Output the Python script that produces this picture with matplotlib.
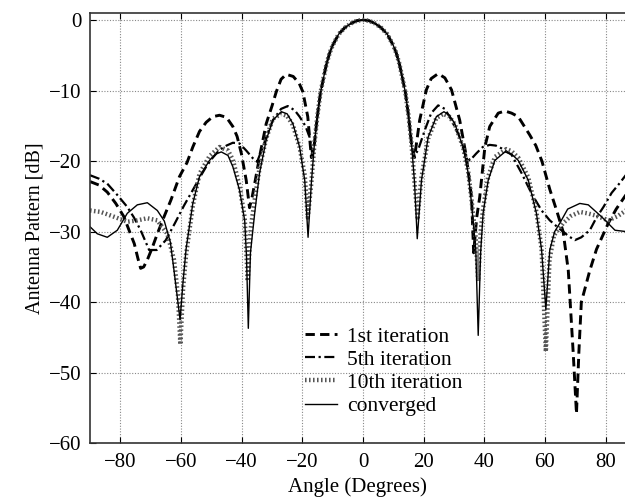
import matplotlib
matplotlib.use("Agg")
import matplotlib.pyplot as plt

plt.rcParams['font.family'] = ['Liberation Serif', 'DejaVu Serif']
plt.rcParams['mathtext.fontset'] = 'stix'

# ---------------- data ----------------
ang_conv = [-90, -87.6, -84.3, -81, -77.7, -74.4, -71.1, -67.8, -65.5, -63.5,
            -62.3, -61.3, -60.3, -59.3, -58.3, -56.1, -53.9, -50.6, -48.5, -46.7,
            -44.5, -42.9, -40.7, -39.0, -38.4, -37.8, -37.1, -35.7, -34.1, -31.9,
            -29.7, -26.9, -25, -23.1, -20.9, -19.2, -18.1, -17, -16, -15,
            -14, -13, -12, -11, -10, -8, -6, -4, -2, 0,
            2, 4, 6, 8, 10, 11, 12, 13, 14, 15,
            16, 17, 17.9, 19.3, 21.5, 24.2, 26.7, 28.5, 30.3, 33.0,
            34.7, 35.8, 37.2, 38.0, 38.8, 39.6, 41.3, 43.5, 46.8, 49,
            51.2, 54.5, 57.2, 58.9, 60.3, 61.6, 63.2, 64.9, 67.5, 71.5,
            74.3, 78.7, 83.1, 87]
db_conv = [-29.3, -30.3, -30.8, -29.8, -27.4, -26.2, -25.9, -27.0, -28.5, -31.5,
           -35.5, -39.0, -42.5, -37.0, -32.4, -26.0, -22.2, -19.9, -19.0, -18.7,
           -19.2, -20.8, -24.1, -28.4, -33.5, -43.7, -33.0, -27.4, -21.7, -17.0,
           -14.2, -13.0, -13.3, -14.7, -18.0, -22.7, -30.8, -23.0, -17.5, -13.5,
           -10.3, -8.2, -6.2, -4.7, -3.6, -2.0, -1.1, -0.5, -0.1, 0.0,
           -0.1, -0.5, -1.1, -2.0, -3.6, -4.7, -6.2, -8.2, -10.3, -13.5,
           -17.5, -23.0, -31.0, -22.7, -16.6, -13.7, -13.0, -13.5, -14.7, -18.0,
           -21.7, -26.0, -32.6, -44.7, -33.0, -27.4, -22.7, -19.9, -18.7, -19.0,
           -19.9, -22.7, -27.4, -32.6, -41.0, -32.6, -30.0, -28.8, -26.8, -26.0,
           -26.2, -27.9, -29.8, -30.0]

ang_it10 = [-90, -86.5, -82, -77.7, -74.4, -71.1, -67.8, -64.5, -62.3, -61.0,
            -60.2, -59.3, -58.3, -56.1, -53.9, -50.6, -47.3, -44.5, -42.9, -40.7,
            -39.0, -38.0, -37.0, -35.7, -34.1, -31.9, -29.7, -26.9, -25, -23.1,
            -20.9, -19.2, -18.2, -17, -16, -15, -14, -13, -12, -11,
            -10, -8, -6, -4, -2, 0, 2, 4, 6, 8,
            10, 11, 12, 13, 14, 15, 16, 17, 18, 19.3,
            21.5, 24.2, 26.5, 28.5, 30.3, 33.0, 34.7, 35.8, 37.2, 38.0,
            38.8, 39.6, 41.3, 43.5, 47.3, 49, 51.2, 54.5, 57.2, 58.9,
            60.3, 61.5, 63, 66, 68.5, 71.5, 74, 76.6, 80.9, 84,
            87]
db_it10 = [-27.0, -27.2, -27.9, -28.6, -28.4, -28.1, -28.4, -30.3, -34.0, -39.0,
           -46.0, -38.0, -33.2, -26.3, -21.8, -19.3, -18.0, -18.5, -19.8, -23.5,
           -28.0, -37.0, -29.5, -25.5, -21.0, -16.8, -14.0, -13.3, -13.6, -14.9,
           -18.0, -22.0, -28.0, -23.0, -17.5, -13.5, -10.3, -8.2, -6.2, -4.7,
           -3.6, -2.0, -1.1, -0.5, -0.1, 0.0, -0.1, -0.5, -1.1, -2.0,
           -3.6, -4.7, -6.2, -8.2, -10.3, -13.5, -17.5, -23.0, -28.0, -22.3,
           -16.8, -13.9, -13.3, -13.7, -14.8, -18.0, -21.5, -25.5, -31.0, -37.0,
           -30.0, -26.8, -22.2, -19.4, -18.3, -18.6, -19.5, -22.3, -27.2, -32.5,
           -47.0, -34.0, -30.5, -28.8, -27.8, -27.2, -27.4, -27.7, -28.4, -27.8,
           -26.9]

ang_it1 = [-90, -87, -84.3, -81.5, -78.8, -76.5, -75.4, -74.2, -73.3, -72.3,
           -71.1, -69.5, -67.8, -65.5, -63.3, -60.5, -58.0, -56.1, -53.9, -51.7,
           -49.5, -47.3, -45.0, -42.9, -41.5, -40.1, -38.5, -37.4, -36.5, -35.7,
           -34.1, -31.9, -30.0, -28.6, -27.0, -25.3, -23.0, -21.0, -19.8, -18.2,
           -17.0, -16, -15, -14, -13, -12, -11, -10, -8, -6,
           -4, -2, 0, 2, 4, 6, 8, 10, 11, 12,
           13, 14, 15, 16, 17.0, 18.7, 20.9, 22.5, 24.8, 27.0,
           29.2, 31.9, 34.1, 35.8, 36.5, 37.5, 38.5, 40.2, 41.8, 44.6,
           46.8, 49.0, 51.2, 55.0, 57.0, 59.0, 61.6, 64.0, 66.0, 67.7,
           69.3, 70.4, 71.2, 72.0, 74.8, 77.0, 80.9, 83.5, 87]
db_it1 = [-22.9, -23.4, -24.4, -26.0, -27.9, -30.5, -31.7, -33.8, -35.2, -35.0,
          -34.0, -32.3, -30.3, -27.8, -25.5, -22.2, -20.2, -18.0, -15.8, -14.5,
          -13.7, -13.5, -13.8, -15.1, -16.5, -18.9, -22.7, -26.6, -25.0, -23.2,
          -19.4, -14.7, -12.2, -10.2, -8.4, -7.7, -8.0, -9.0, -10.2, -13.7,
          -19.5, -17.5, -13.5, -10.3, -8.2, -6.2, -4.7, -3.6, -2.0, -1.1,
          -0.5, -0.1, 0.0, -0.1, -0.5, -1.1, -2.0, -3.6, -4.7, -6.2,
          -8.2, -10.3, -13.5, -17.5, -19.5, -14.2, -9.9, -8.3, -7.6, -8.2,
          -9.9, -14.2, -19.4, -25.1, -33.0, -28.0, -25.1, -18.0, -15.1, -13.2,
          -12.9, -13.2, -13.7, -16.3, -17.8, -20.0, -24.0, -27.2, -30.0, -35.5,
          -47.0, -55.8, -47.0, -40.0, -35.5, -32.5, -28.8, -26.8, -24.6]

ang_it5 = [-90, -87, -84.3, -81, -77.7, -75.5, -73.3, -71.8, -70.5, -68.0,
           -65.0, -62.0, -59.0, -56.1, -53.9, -51.7, -49.5, -47.3, -45.0, -42.9,
           -40.7, -38.5, -36.3, -34.9, -33.0, -31.4, -29.7, -27.0, -24.8, -22.5,
           -20.9, -19.0, -17.6, -16.6, -16, -15, -14, -13, -12, -11,
           -10, -8, -6, -4, -2, 0, 2, 4, 6, 8,
           10, 11, 12, 13, 14, 15, 16, 16.8, 18.2, 20.4,
           22.5, 24.8, 27.0, 29.2, 31.9, 33.6, 35.3, 37.4, 39.5, 41.8,
           43.8, 45.7, 49.0, 52.3, 55.6, 58.9, 61.6, 64.0, 66.0, 68.0,
           69.9, 72.0, 74.8, 77.0, 79.3, 82.0, 84.5, 87]
db_it5 = [-22.0, -22.5, -23.2, -24.8, -26.5, -28.0, -29.8, -31.3, -32.6, -32.6,
          -31.2, -28.8, -26.3, -24.1, -22.4, -20.8, -19.5, -18.4, -17.8, -17.4,
          -17.5, -18.5, -19.6, -20.1, -18.0, -16.0, -14.2, -12.6, -12.2, -12.8,
          -13.7, -15.0, -16.6, -19.2, -17.5, -13.5, -10.3, -8.2, -6.2, -4.7,
          -3.6, -2.0, -1.1, -0.5, -0.1, 0.0, -0.1, -0.5, -1.1, -2.0,
          -3.6, -4.7, -6.2, -8.2, -10.3, -13.5, -17.5, -19.4, -18.4, -15.6,
          -13.2, -12.1, -12.6, -14.2, -16.6, -18.9, -19.9, -18.9, -18.0, -17.7,
          -17.8, -18.2, -19.1, -21.7, -24.6, -27.0, -28.4, -29.3, -30.0, -30.7,
          -31.2, -30.8, -29.8, -28.0, -26.5, -24.5, -23.2, -21.8]

labels = ['1st iteration', '5th iteration', '10th iteration', 'converged']
x_ticks = [-80, -60, -40, -20, 0, 20, 40, 60, 80]
y_ticks = [-60, -50, -40, -30, -20, -10, 0]

for a, b in [(ang_conv, db_conv), (ang_it10, db_it10), (ang_it1, db_it1), (ang_it5, db_it5)]:
    assert len(a) == len(b), (len(a), len(b))

# ---------------- figure ----------------
fig = plt.figure(figsize=(6.25, 5), dpi=100)
ax = fig.add_axes([90 / 625, 56.7 / 500, 535 / 625, 430 / 500])

ax.plot(ang_it1, db_it1, color='black', lw=2.1, linestyle=(0, (3.2, 1.8)), label=labels[0])
ax.plot(ang_it5, db_it5, color='black', lw=1.6, linestyle=(0, (4.5, 1.6, 1.0, 1.6)), label=labels[1])
ax.plot(ang_it10, db_it10, color='#555555', lw=3.2, linestyle=(0, (0.35, 0.55)), label=labels[2])
ax.plot(ang_conv, db_conv, color='black', lw=1.0, linestyle='-', label=labels[3])

ax.set_xlim(-90, 86.4)
ax.set_ylim(-60, 0.95)
ax.set_xticks(x_ticks)
ax.set_yticks(y_ticks)
ax.grid(True, color='#888888', linestyle=(0, (1, 1.5)), linewidth=0.8)
ax.tick_params(direction='in', length=4, labelsize=15, colors='black', top=True, pad=6)
ax.tick_params(axis='x', pad=7)
for s in ['left', 'bottom', 'top']:
    ax.spines[s].set_color('#333333')
    ax.spines[s].set_linewidth(1.2)
ax.spines['right'].set_visible(False)

ax.set_xlabel('Angle (Degrees)', fontsize=15, labelpad=4)
ax.set_ylabel('Antenna Pattern [dB]', fontsize=14.5, labelpad=3)

leg = ax.legend(loc='upper left', bbox_to_anchor=(0.385, 0.291), frameon=False,
                fontsize=15.5, handlelength=1.5, handletextpad=0.48,
                labelspacing=0.14, borderaxespad=0.0)

fig.savefig('out.png', dpi=100)
